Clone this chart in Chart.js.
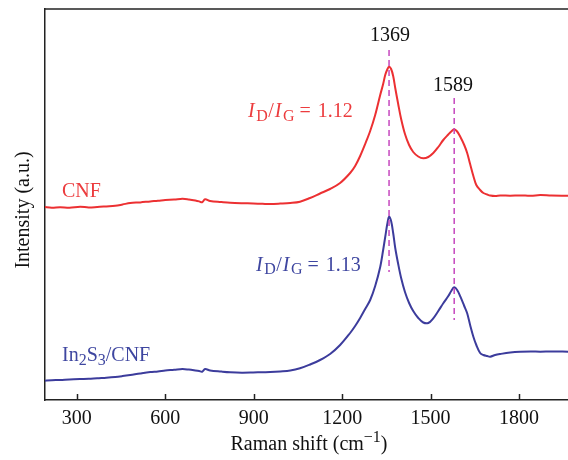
<!DOCTYPE html>
<html><head><meta charset="utf-8">
<script src="https://cdn.jsdelivr.net/npm/chart.js@4.4.1/dist/chart.umd.min.js"></script>
<style>html,body{margin:0;padding:0;background:#fff;overflow:hidden}#wrap{width:568px;height:460px;position:relative}</style>
</head><body><div id="wrap"><canvas id="c" width="568" height="460"></canvas></div>
<script>
// Raman shift (cm^-1)
const ramanShift = [189,215,243,275,311,340,369,400,430,455,481,515,549,575,600,630,658,680,702,715,725,735,752,790,820,860,898,930,956,990,1024,1057,1091,1125,1159,1193,1227,1244,1261,1278,1295,1312,1329,1339,1346,1353,1359,1366,1373,1380,1390,1400,1413,1427,1441,1458,1475,1492,1509,1526,1543,1560,1570,1580,1590,1601,1614,1624,1634,1645,1655,1668,1679,1692,1702,1719,1736,1770,1804,1840,1872,1910,1967];
// Intensity (a.u.), offset spectra
const cnf = [193,192.2,192.8,192.3,193.2,192.6,193,193.6,194.2,195.5,197,197.6,198.6,199.2,200,200.4,201.3,200.6,199.5,198.6,197.7,200.7,199,198,197.3,196.8,196.5,196.2,196,196.4,197,198.3,202,206.5,211,217,227,234,244,256,269,285,305,316,325,330.5,333.3,331,324,312,296,281,266,255,248,243.5,241.7,243,247,253,260,265.5,268.5,270.7,268.5,263,255,247,236,224,215,210,207,205.5,204.5,204,204.5,204.3,204.6,204.2,205,204.4,204.3];
const in2s3Cnf = [19.3,19.8,20,20.6,21,21.2,21.8,22.3,23,23.9,25,26.6,28,28.6,29.5,30.2,31,30.4,29.5,28.9,28.3,31,29.5,28.4,27.7,27.3,27.5,27.8,28,28.6,29.5,31.7,35.5,40,46,55,67,74,82,91,100,114,133,150,163,176,183.3,179,167,152,136,122,108,97,89,82,77.5,77,81.7,89,96.7,104,109,112.7,110,103.3,94,86.7,75,63.3,55,47,45,44,43.3,45,46,47.5,48.3,48.6,48.3,48.6,48.3];
const xTicks = [300,600,900,1200,1500,1800];
const peakLabels = ['1369','1589'];
const peakShift = [1359,1580];
const peakLineTop = [350,302];
const peakLineBottom = [128,80];
const ratioLabels = ['1.12','1.13'];
const seriesNames = ['CNF','In2S3/CNF'];

const RED = 'rgb(236,48,50)', BLUE = 'rgb(60,60,156)', DASH = 'rgb(198,72,190)';
const RED_T = 'rgb(236,60,62)', BLUE_T = 'rgb(62,70,160)';
const FAM = '"Liberation Serif", "Times New Roman", serif';
const MAIN = '20px ' + FAM, ITAL = 'italic 20px ' + FAM, SUB = '16px ' + FAM;

function pts(xs, ys){ return xs.map((x,i)=>({x:x, y:ys[i]})); }

function runsWidth(ctx, runs){ let w=0; for(const r of runs){ctx.font=r.f; w+=ctx.measureText(r.t).width+(r.sp||0);} return w; }
function drawRuns(ctx, runs, x, y, color, align){
  ctx.save(); ctx.fillStyle=color; ctx.textBaseline='alphabetic'; ctx.textAlign='left';
  let cx = x; if(align==='center') cx = x - runsWidth(ctx, runs)/2;
  for(const r of runs){ ctx.font=r.f; ctx.fillText(r.t, cx, y+(r.dy||0)); cx += ctx.measureText(r.t).width+(r.sp||0); }
  ctx.restore();
}
function ratioRuns(v){
  return [{t:'I',f:ITAL,sp:1.5},{t:'D',f:SUB,dy:3.5,sp:0.5},{t:'/',f:MAIN,sp:1},{t:'I',f:ITAL,sp:1.5},{t:'G',f:SUB,dy:3.5,sp:5},{t:'=',f:MAIN,sp:7},{t:v,f:MAIN}];
}

const textPlugin = {
  id:'texts',
  afterDraw(chart){
    const ctx = chart.ctx, a = chart.chartArea, xs = chart.scales.x;
    ctx.save();
    ctx.strokeStyle='#222'; ctx.lineWidth=1.5;
    ctx.beginPath(); ctx.moveTo(a.left, a.top); ctx.lineTo(a.right, a.top); ctx.stroke();
    for(const v of xTicks){ const p = Math.round(xs.getPixelForValue(v))+0.5; ctx.beginPath(); ctx.moveTo(p, a.bottom); ctx.lineTo(p, a.bottom-6); ctx.stroke(); }
    ctx.restore();
    drawRuns(ctx, [{t:peakLabels[0],f:MAIN}], 390, 41, '#111', 'center');
    drawRuns(ctx, [{t:peakLabels[1],f:MAIN}], 453, 91, '#111', 'center');
    drawRuns(ctx, [{t:seriesNames[0],f:MAIN}], 62, 197, RED_T);
    drawRuns(ctx, [{t:'In',f:MAIN},{t:'2',f:SUB,dy:4},{t:'S',f:MAIN},{t:'3',f:SUB,dy:4},{t:'/CNF',f:MAIN}], 62, 361, BLUE_T);
    drawRuns(ctx, ratioRuns(ratioLabels[0]), 248, 117, RED_T);
    drawRuns(ctx, ratioRuns(ratioLabels[1]), 256, 270.5, BLUE_T);
    drawRuns(ctx, [{t:'Raman shift (cm',f:MAIN},{t:'\u22121',f:SUB,dy:-8},{t:')',f:MAIN}], 309, 450, '#111', 'center');
    ctx.save(); ctx.translate(24, 210); ctx.rotate(-Math.PI/2);
    ctx.font=MAIN; ctx.fillStyle='#111'; ctx.textAlign='center'; ctx.textBaseline='middle';
    ctx.fillText('Intensity (a.u.)', 0, 0); ctx.restore();
  }
};

const lineStyle = {pointRadius:0, borderWidth:2, fill:false, tension:0.35};
const dashStyle = {pointRadius:0, borderWidth:1.5, borderColor:DASH, borderDash:[6,4], fill:false, order:0};

new Chart(document.getElementById('c'), {
  type:'line',
  data:{ datasets:[
    Object.assign({label:'peak D', data:[{x:peakShift[0],y:peakLineTop[0]},{x:peakShift[0],y:peakLineBottom[0]}]}, dashStyle),
    Object.assign({label:'peak G', data:[{x:peakShift[1],y:peakLineTop[1]},{x:peakShift[1],y:peakLineBottom[1]}]}, dashStyle),
    Object.assign({label:seriesNames[0], data:pts(ramanShift,cnf), borderColor:RED, order:1}, lineStyle),
    Object.assign({label:seriesNames[1], data:pts(ramanShift,in2s3Cnf), borderColor:BLUE, order:1}, lineStyle)
  ]},
  options:{
    responsive:false, animation:false,
    layout:{padding:{top:9,left:0,right:0,bottom:0}},
    plugins:{legend:{display:false}, tooltip:{enabled:false}},
    scales:{
      x:{ type:'linear', min:192, max:1966,
        afterBuildTicks:(s)=>{ s.ticks = xTicks.map(v=>({value:v})); },
        afterFit:(s)=>{ s.height = 60; },
        ticks:{ font:{family:'Liberation Serif', size:20}, color:'#111', padding:7, maxRotation:0, autoSkip:false, callback:(v)=>String(v) },
        grid:{ display:false, drawTicks:false },
        border:{ display:true, color:'#222', width:1.5 }
      },
      y:{ type:'linear', min:0, max:391,
        afterFit:(s)=>{ s.width = 45; },
        ticks:{ display:false },
        grid:{ display:false, drawTicks:false },
        border:{ display:true, color:'#222', width:1.5 }
      }
    }
  },
  plugins:[textPlugin]
});
</script></body></html>
